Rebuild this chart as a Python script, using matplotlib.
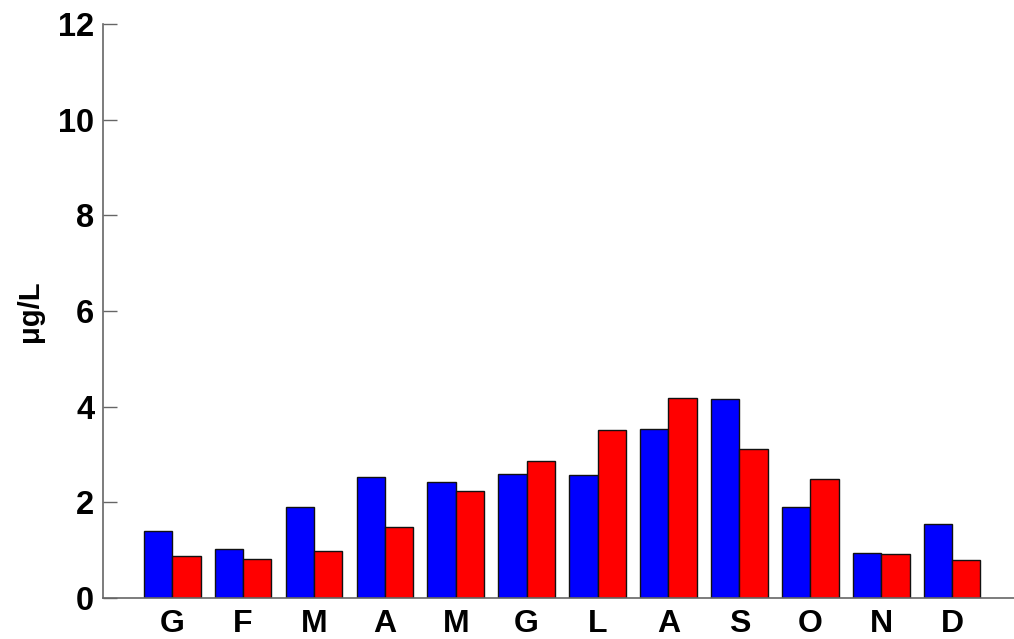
import matplotlib
matplotlib.use("Agg")
import matplotlib.pyplot as plt
import numpy as np

months = ["G", "F", "M", "A", "M", "G", "L", "A", "S", "O", "N", "D"]
blue_vals = [1.40, 1.03, 1.90, 2.53, 2.43, 2.60, 2.57, 3.53, 4.17, 1.90, 0.94, 1.55]
red_vals = [0.87, 0.82, 0.98, 1.49, 2.23, 2.86, 3.51, 4.19, 3.12, 2.49, 0.91, 0.80]
yticks = [0, 2, 4, 6, 8, 10, 12]

plt.rcParams['font.family'] = ['Liberation Sans', 'DejaVu Sans']

fig = plt.figure(figsize=(10.14, 6.39), dpi=100)
ax = fig.add_axes([102.7/1014, 41/639, 911/1014, 574/639])

x = np.arange(1, len(months) + 1)
w = 0.4
ax.bar(x - w/2, blue_vals, width=w, color='#0000ff', edgecolor='#111111', linewidth=1.0)
ax.bar(x + w/2, red_vals, width=w, color='#ff0000', edgecolor='#111111', linewidth=1.0)

ax.set_xlim(0.02, 0.02 + 911/70.9)
ax.set_ylim(0, 12)
ax.set_yticks(yticks)
ax.set_yticklabels([str(v) for v in yticks], fontsize=23.5, fontweight='bold')
ax.set_xticks(x)
ax.set_xticklabels(months, fontsize=23, fontweight='bold')
ax.tick_params(axis='y', direction='in', length=10, width=1, color='#666666', pad=6)
ax.tick_params(axis='x', length=0, pad=8)

for s in ['top', 'right']:
    ax.spines[s].set_visible(False)
for s in ['left', 'bottom']:
    ax.spines[s].set_color('#666666')
    ax.spines[s].set_linewidth(1.2)

ax.set_ylabel("μg/L", fontsize=21, fontweight='bold', labelpad=10)

fig.savefig("out.png", dpi=100)
